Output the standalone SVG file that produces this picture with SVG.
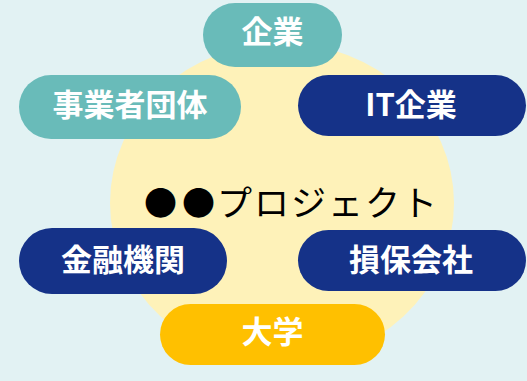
<svg xmlns="http://www.w3.org/2000/svg" width="527" height="381" viewBox="0 0 527 381">
<style>
.pill text{font-family:"Noto Sans CJK JP","Noto Sans",sans-serif;font-weight:bold;font-size:31px;fill:#FFFFFF;text-anchor:middle}
.teal rect{fill:#69BBB9}
.navy rect{fill:#153288}
.gold rect{fill:#FFC000}
.title{font-family:"Noto Sans CJK JP","Noto Sans",sans-serif;font-size:35px;fill:#000000}
.bullet{font-size:33px}
</style>
<rect x="0" y="0" width="527" height="381" fill="#E2F2F3"/>
<g id="project">
<ellipse cx="282" cy="203" rx="172" ry="160" fill="#FEF2B9"/>
<text class="title" y="216"><tspan class="bullet" x="144" y="215">●</tspan><tspan class="bullet" x="182" y="215">●</tspan><tspan x="217" y="216" textLength="220" lengthAdjust="spacing">プロジェクト</tspan></text>
</g>
<g id="connectors"></g>
<g id="kigyo" class="pill teal">
<rect x="203" y="3" width="139" height="64" rx="32"/>
<text x="272.5" y="43">企業</text>
</g>
<g id="jigyoshadantai" class="pill teal">
<rect x="19" y="75" width="222" height="64" rx="32"/>
<text x="130" y="116">事業者団体</text>
</g>
<g id="itkigyo" class="pill navy">
<rect x="298" y="75" width="228" height="61" rx="30.5"/>
<text x="411" y="116">IT企業</text>
</g>
<g id="kinyukikan" class="pill navy">
<rect x="19" y="228" width="208" height="66" rx="33"/>
<text x="123" y="271">金融機関</text>
</g>
<g id="sonpogaisha" class="pill navy">
<rect x="298" y="230" width="228" height="61" rx="30.5"/>
<text x="411" y="271">損保会社</text>
</g>
<g id="daigaku" class="pill gold">
<rect x="160" y="304" width="225" height="61" rx="30.5"/>
<text x="272.5" y="343">大学</text>
</g>
</svg>
